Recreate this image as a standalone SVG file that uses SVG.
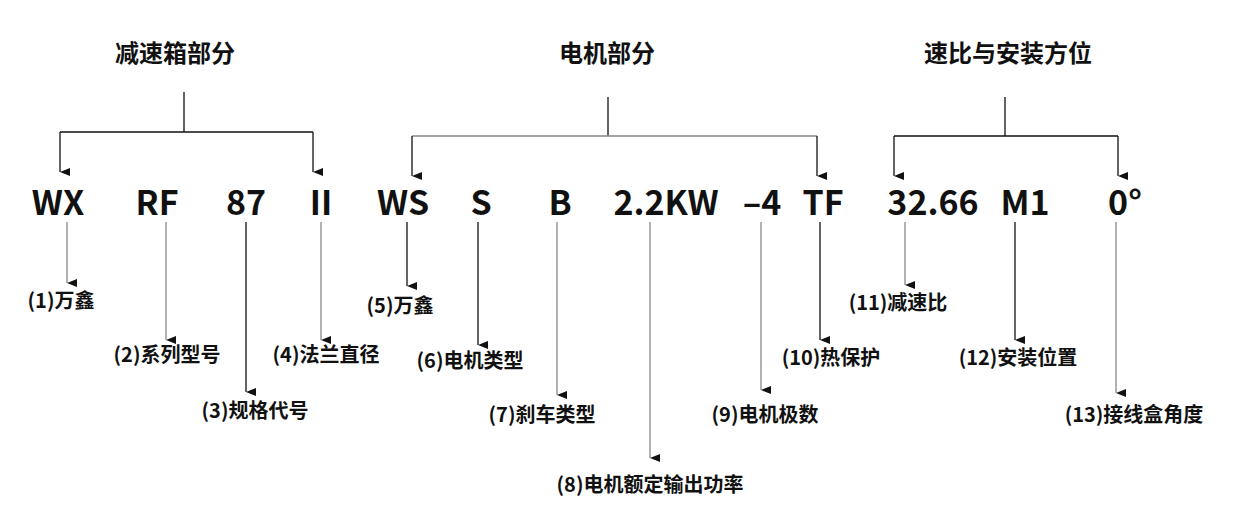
<svg xmlns="http://www.w3.org/2000/svg" width="1250" height="520" viewBox="0 0 1250 520">
<defs>
<marker id="ah" markerWidth="8" markerHeight="10" refX="4" refY="10" orient="auto-start-reverse" markerUnits="userSpaceOnUse" viewBox="0 0 8 10"><path d="M0,0 L8,0 L4,10 Z" fill="#111"/></marker>
<style>
text{font-family:"Noto Sans CJK SC","Noto Sans",sans-serif;font-weight:bold;fill:#111;text-anchor:middle}
.t{font-size:24px}.c{font-size:34px}.l{font-size:20px}
.k{stroke:#111;stroke-width:1.3;fill:none}.g{stroke:#888;stroke-width:1.3;fill:none}
</style>
</defs>
<rect width="1250" height="520" fill="#fff"/>
<g id="titles">
<text class="t" x="175" y="62">减速箱部分</text>
<text class="t" x="607" y="62">电机部分</text>
<text class="t" x="1008" y="62">速比与安装方位</text>
</g>
<g id="codes">
<text class="c" x="58" y="215">WX</text>
<text class="c" x="157" y="215">RF</text>
<text class="c" x="246" y="215">87</text>
<text class="c" x="321" y="215">Ⅱ</text>
<text class="c" x="403" y="215">WS</text>
<text class="c" x="481" y="215">S</text>
<text class="c" x="560" y="215">B</text>
<text class="c" x="666" y="215">2.2KW</text>
<text class="c" x="762" y="215">–4</text>
<text class="c" x="823" y="215">TF</text>
<text class="c" x="933" y="215">32.66</text>
<text class="c" x="1025" y="215">M1</text>
<text class="c" x="1125" y="215">0°</text>
</g>
<g id="labels">
<text class="l" x="61" y="308">(1)万鑫</text>
<text class="l" x="167" y="362">(2)系列型号</text>
<text class="l" x="255" y="418">(3)规格代号</text>
<text class="l" x="326" y="362">(4)法兰直径</text>
<text class="l" x="400" y="313">(5)万鑫</text>
<text class="l" x="470" y="368">(6)电机类型</text>
<text class="l" x="542" y="422">(7)刹车类型</text>
<text class="l" x="650" y="492">(8)电机额定输出功率</text>
<text class="l" x="765" y="422">(9)电机极数</text>
<text class="l" x="831" y="365">(10)热保护</text>
<text class="l" x="898" y="310">(11)减速比</text>
<text class="l" x="1018" y="365">(12)安装位置</text>
<text class="l" x="1134" y="422">(13)接线盒角度</text>
</g>
<g id="connectors">
<path class="k" d="M184,92 V132 M60,132 H313" />
<path class="k" d="M60,132 V172" marker-end="url(#ah)"/>
<path class="k" d="M313,132 V172" marker-end="url(#ah)"/>
<path class="k" d="M608,97 V136" />
<path class="g" d="M412,136 H817" />
<path class="k" d="M412,136 V176" marker-end="url(#ah)"/>
<path class="k" d="M817,136 V176" marker-end="url(#ah)"/>
<path class="k" d="M1005,97 V136 M894,136 H1118" />
<path class="k" d="M894,136 V176" marker-end="url(#ah)"/>
<path class="k" d="M1118,136 V176" marker-end="url(#ah)"/>
<path class="g" d="M67,222 V283" marker-end="url(#ah)"/>
<path class="g" d="M166,222 V340" marker-end="url(#ah)"/>
<path class="k" d="M246,222 V392" marker-end="url(#ah)"/>
<path class="g" d="M321,222 V340" marker-end="url(#ah)"/>
<path class="k" d="M407,222 V286" marker-end="url(#ah)"/>
<path class="k" d="M478,222 V345" marker-end="url(#ah)"/>
<path class="g" d="M557,222 V395" marker-end="url(#ah)"/>
<path class="g" d="M650,222 V458" marker-end="url(#ah)"/>
<path class="g" d="M761,222 V390" marker-end="url(#ah)"/>
<path class="k" d="M820,222 V340" marker-end="url(#ah)"/>
<path class="g" d="M905,222 V285" marker-end="url(#ah)"/>
<path class="k" d="M1015,222 V340" marker-end="url(#ah)"/>
<path class="g" d="M1116,222 V393" marker-end="url(#ah)"/>
</g>
</svg>
